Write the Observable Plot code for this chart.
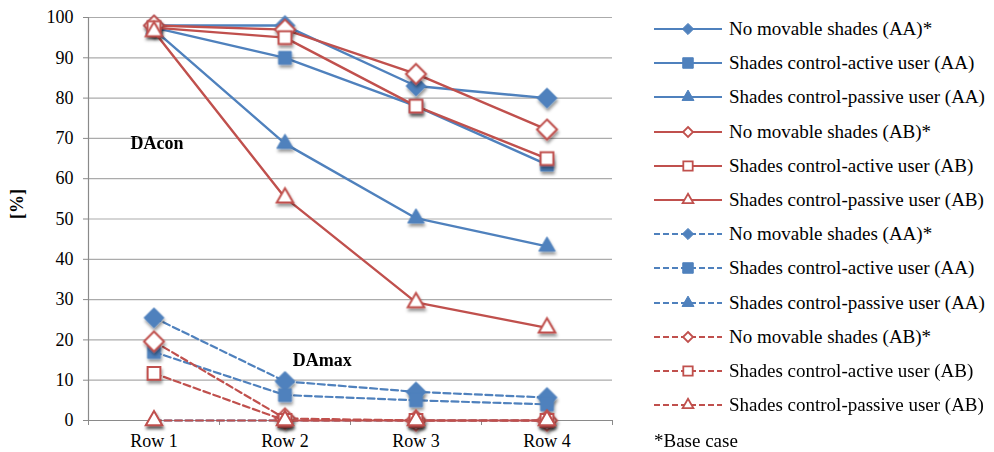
<!DOCTYPE html>
<html><head><meta charset="utf-8">
<script src="https://cdn.jsdelivr.net/npm/d3@7"></script>
<script src="https://cdn.jsdelivr.net/npm/@observablehq/plot@0.6"></script>
<style>
body{margin:0;background:#fff;}
#wrap{position:relative;width:994px;height:452px;font-family:"Liberation Serif","Times New Roman",Times,"DejaVu Serif",serif;background:#fff;}
#chart{position:absolute;left:0;top:0;}
#legend{position:absolute;left:652px;top:12px;}
.row{display:flex;align-items:center;height:34.2px;font-size:19px;color:#000;white-space:nowrap;}
.row svg{margin-right:5px;flex:none;}
.note{font-size:19px;height:34.2px;display:flex;align-items:center;padding-left:2px;margin-top:2px;}
</style></head><body>
<div id="wrap"><div id="chart"></div><div id="legend"></div></div>
<script>
// ---- data ----
const rows = ["Row 1", "Row 2", "Row 3", "Row 4"];
const yTicks = [0, 10, 20, 30, 40, 50, 60, 70, 80, 90, 100];
const seriesNames = [
  "No movable shades (AA)*",
  "Shades control-active user (AA)",
  "Shades control-passive user (AA)",
  "No movable shades (AB)*",
  "Shades control-active user (AB)",
  "Shades control-passive user (AB)"
];
// DAcon (solid lines)
const daconNoShadesAA = [98, 98, 83, 80];
const daconActiveAA   = [97.5, 90, 78, 63.5];
const daconPassiveAA  = [97, 68.7, 50.2, 43.2];
const daconNoShadesAB = [98, 97, 86, 72.2];
const daconActiveAB   = [97.5, 95, 78, 65];
const daconPassiveAB  = [96.5, 55.3, 29.3, 23];
// DAmax (dashed lines)
const damaxNoShadesAA = [25.5, 9.7, 7.1, 5.7];
const damaxActiveAA   = [17, 6.3, 5, 4];
const damaxPassiveAA  = [0, 0, 0, 0];
const damaxNoShadesAB = [19.6, 0.5, 0, 0];
const damaxActiveAB   = [11.7, 0, 0, 0];
const damaxPassiveAB  = [0, 0, 0, 0];
// annotations
const annotLabels = ["DAcon", "DAmax"];
const annotX = [0.82, 2.06];
const annotY = [68.7, 15];

// ---- styles ----
const FONT = '"Liberation Serif", "Times New Roman", Times, "DejaVu Serif", serif';
const BLUE = "#4F81BD", RED = "#C0504D";
const styleDefs = [
  {color: BLUE, symbol: "diamond2", filled: true},
  {color: BLUE, symbol: "square", filled: true},
  {color: BLUE, symbol: "triangle", filled: true},
  {color: RED, symbol: "diamond2", filled: false},
  {color: RED, symbol: "square", filled: false},
  {color: RED, symbol: "triangle", filled: false}
];
const rFor = {diamond2: 9, square: 7.2, triangle: 6.1};

const solidVals = [daconNoShadesAA, daconActiveAA, daconPassiveAA, daconNoShadesAB, daconActiveAB, daconPassiveAB];
const dashedVals = [damaxNoShadesAA, damaxActiveAA, damaxPassiveAA, damaxNoShadesAB, damaxActiveAB, damaxPassiveAB];

const series = [];
solidVals.forEach((v, i) => series.push({name: seriesNames[i], values: v, dashed: false, ...styleDefs[i]}));
dashedVals.forEach((v, i) => series.push({name: seriesNames[i], values: v, dashed: true, ...styleDefs[i]}));

const GRID = "#ababab", AXIS = "#8a8a8a";

const marks = [
  Plot.gridY(yTicks.filter(d => d > 0), {stroke: GRID, strokeOpacity: 1, strokeWidth: 1.2}),
  Plot.ruleY([0], {stroke: AXIS, strokeWidth: 1.2}),
  Plot.ruleX([0.5], {stroke: AXIS, strokeWidth: 1.2}),
  Plot.axisY({ticks: yTicks, tickSize: 5, tickPadding: 10, label: null, stroke: AXIS}),
  Plot.axisX({ticks: d3.range(0.5, rows.length + 1, 1), tickSize: 5, tickFormat: () => "", label: null, stroke: AXIS}),
  Plot.axisX({ticks: d3.range(1, rows.length + 1), tickSize: 0, tickPadding: 14, tickFormat: d => rows[d - 1], label: null}),
  Plot.text(["[%]"], {frameAnchor: "left", dx: -71, rotate: -90, text: d => d, fontWeight: "bold", fontSize: 18})
];

series.forEach(s => {
  const data = s.values.map((v, i) => ({x: i + 1, y: v}));
  marks.push(Plot.line(data, {x: "x", y: "y", stroke: s.color, strokeWidth: s.dashed ? 2.2 : 2.4,
    strokeDasharray: s.dashed ? "7,3.5" : null}));
  marks.push(Plot.dot(data, {x: "x", y: "y", symbol: s.symbol, r: rFor[s.symbol],
    fill: s.filled ? s.color : "white", stroke: s.color, strokeWidth: s.filled ? 1 : 2}));
});

const annots = annotLabels.map((t, i) => ({t, x: annotX[i], y: annotY[i]}));
marks.push(Plot.text(annots, {x: "x", y: "y", text: "t", textAnchor: "start", fontWeight: "bold", fontSize: 18}));

const chart = Plot.plot({
  width: 630, height: 452,
  marginLeft: 88, marginRight: 18, marginTop: 17, marginBottom: 32,
  x: {domain: [0.5, 4.5]},
  y: {domain: [0, 100]},
  style: {fontFamily: FONT, fontSize: "18px", color: "#000", background: "white", overflow: "visible"},
  marks
});

chart.insertAdjacentHTML("afterbegin",
  '<defs><filter id="sh" x="-60%" y="-60%" width="220%" height="220%"><feDropShadow dx="1" dy="3" stdDeviation="1.6" flood-color="#000" flood-opacity="0.4"/></filter></defs>');
chart.querySelectorAll('g[aria-label="dot"]').forEach(g => g.setAttribute("filter", "url(#sh)"));
chart.querySelectorAll("text").forEach(t => t.style.fontFamily = FONT);
document.getElementById("chart").appendChild(chart);

// ---- legend ----
const legendSize = {diamond2: 80, square: 110, triangle: 62};
const symMap = {diamond2: d3.symbolDiamond2, square: d3.symbolSquare, triangle: d3.symbolTriangle};
const legend = d3.select("#legend");
series.forEach(s => {
  const row = legend.append("div").attr("class", "row");
  const svg = row.append("svg").attr("width", 72).attr("height", 20);
  svg.append("line").attr("x1", 2).attr("x2", 70).attr("y1", 10).attr("y2", 10)
    .attr("stroke", s.color).attr("stroke-width", 2.2)
    .attr("stroke-dasharray", s.dashed ? "6,3" : null);
  const sz = s.filled ? legendSize[s.symbol] : legendSize[s.symbol] * 0.8;
  svg.append("path").attr("d", d3.symbol(symMap[s.symbol], sz)())
    .attr("transform", "translate(36,10)")
    .attr("fill", s.filled ? s.color : "white").attr("stroke", s.color).attr("stroke-width", s.filled ? 1 : 1.8);
  row.append("span").text(s.name);
});
legend.append("div").attr("class", "note").text("*Base case");
</script>
</body></html>
